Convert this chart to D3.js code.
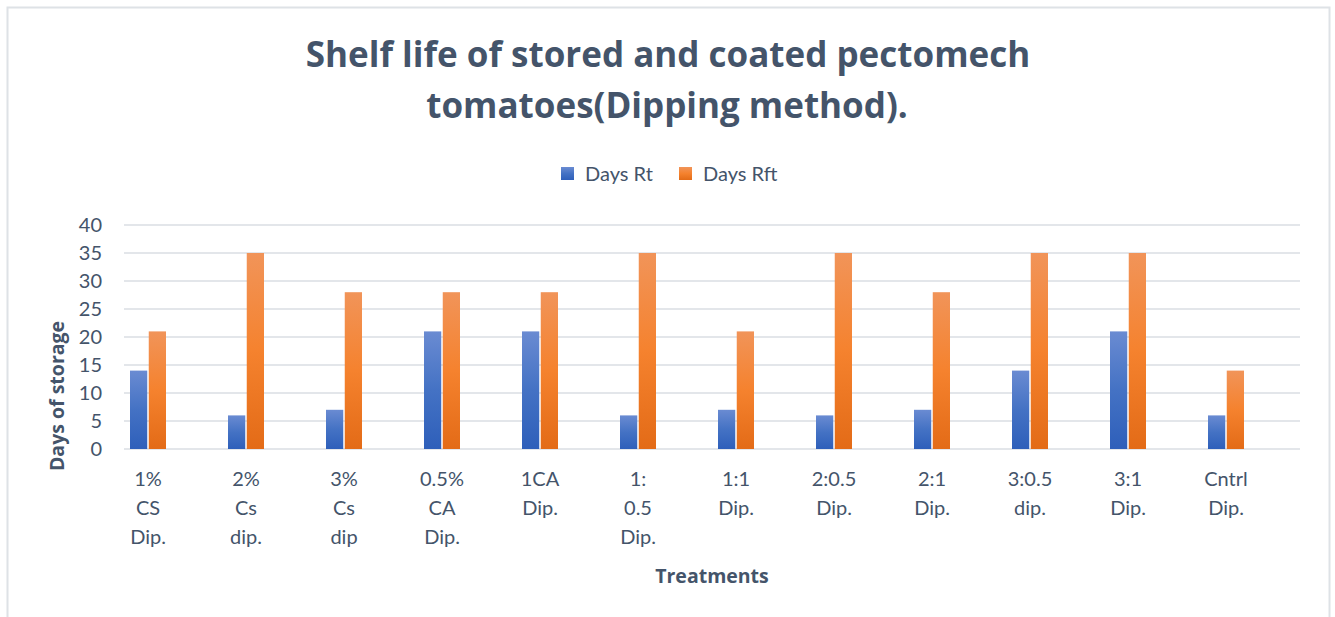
<!DOCTYPE html>
<html>
<head>
<meta charset="utf-8">
<script src="https://cdn.jsdelivr.net/npm/d3@7"></script>
<style>
  body { margin: 0; background: #fff; }
  svg text { font-family: Lato, "Open Sans", sans-serif; }
  svg text.heading { font-family: "Open Sans", Lato, sans-serif; font-weight: bold; }
</style>
</head>
<body>
<svg width="1335" height="617"></svg>
<script>
var categories = [
    ["1%", "CS", "Dip."],
    ["2%", "Cs", "dip."],
    ["3%", "Cs", "dip"],
    ["0.5%", "CA", "Dip."],
    ["1CA", "Dip."],
    ["1:", "0.5", "Dip."],
    ["1:1", "Dip."],
    ["2:0.5", "Dip."],
    ["2:1", "Dip."],
    ["3:0.5", "dip."],
    ["3:1", "Dip."],
    ["Cntrl", "Dip."]
];
var seriesNames = ["Days Rt", "Days Rft"];
var daysRt = [14, 6, 7, 21, 21, 6, 7, 6, 7, 14, 21, 6];
var daysRft = [21, 35, 28, 28, 28, 35, 21, 35, 28, 35, 35, 14];
var yTicks = [0, 5, 10, 15, 20, 25, 30, 35, 40];

var svg = d3.select("svg"),
    width = +svg.attr("width"),
    height = +svg.attr("height");

var textColor = "#44546A";

// chart frame
svg.append("rect")
    .attr("x", 7.5).attr("y", 7.5)
    .attr("width", 1322).attr("height", 620)
    .attr("fill", "#fff")
    .attr("stroke", "#DEE2E6")
    .attr("stroke-width", 2);

// gradients
var defs = svg.append("defs");
var grads = [
    { id: "gBlue", stops: ["#6A8BD2", "#4472C4", "#2E5FBA"] },
    { id: "gOrange", stops: ["#F19459", "#F5822E", "#E36B17"] }
];
grads.forEach(function (g) {
    var lg = defs.append("linearGradient")
        .attr("id", g.id)
        .attr("x1", 0).attr("y1", 0).attr("x2", 0).attr("y2", 1);
    lg.append("stop").attr("offset", "0%").attr("stop-color", g.stops[0]);
    lg.append("stop").attr("offset", "50%").attr("stop-color", g.stops[1]);
    lg.append("stop").attr("offset", "100%").attr("stop-color", g.stops[2]);
});
var fills = ["url(#gBlue)", "url(#gOrange)"];

// title
var title = svg.append("text")
    .attr("class", "heading")
    .attr("text-anchor", "middle")
    .attr("fill", textColor)
    .attr("font-size", 35);
title.append("tspan").attr("x", 668).attr("y", 67).text("Shelf life of stored and coated pectomech");
title.append("tspan").attr("x", 667).attr("y", 118).text("tomatoes(Dipping method).");

// scales
var x0 = d3.scaleBand()
    .domain(d3.range(categories.length))
    .range([99, 1275]);

var x1 = d3.scaleBand()
    .domain([0, 1])
    .range([-18, 18])
    .paddingInner(0.08);

var y = d3.scaleLinear()
    .domain([0, 40])
    .range([449, 225]);

// gridlines
svg.append("g")
    .selectAll("line")
    .data(yTicks)
    .enter().append("line")
    .attr("x1", 124).attr("x2", 1300)
    .attr("y1", d => y(d)).attr("y2", d => y(d))
    .attr("stroke", "#E3E6EA")
    .attr("stroke-width", 2);

// y tick labels
svg.append("g")
    .selectAll("text")
    .data(yTicks)
    .enter().append("text")
    .attr("x", 102)
    .attr("y", d => y(d))
    .attr("dy", "0.35em")
    .attr("text-anchor", "end")
    .attr("fill", textColor)
    .attr("font-size", 20)
    .text(d => d);

// bars
var data = categories.map(function (c, i) {
    return { i: i, values: [daysRt[i], daysRft[i]] };
});

var groups = svg.append("g")
    .selectAll("g")
    .data(data)
    .enter().append("g")
    .attr("transform", d => "translate(" + (x0(d.i) + x0.bandwidth() / 2) + ",0)");

groups.selectAll("rect")
    .data(d => d.values.map((v, k) => ({ k: k, v: v })))
    .enter().append("rect")
    .attr("x", d => x1(d.k))
    .attr("width", x1.bandwidth())
    .attr("y", d => y(d.v))
    .attr("height", d => y(0) - y(d.v))
    .attr("fill", d => fills[d.k]);

// category labels
var catLabels = svg.append("g")
    .selectAll("text")
    .data(categories)
    .enter().append("text")
    .attr("text-anchor", "middle")
    .attr("fill", textColor)
    .attr("font-size", 20);

catLabels.each(function (lines, i) {
    var cx = x0(i) + x0.bandwidth() / 2;
    d3.select(this).selectAll("tspan")
        .data(lines)
        .enter().append("tspan")
        .attr("x", cx)
        .attr("y", (d, k) => 486 + k * 29)
        .text(d => d);
});

// axis titles
svg.append("text")
    .attr("class", "heading")
    .attr("transform", "translate(64,396) rotate(-90)")
    .attr("text-anchor", "middle")
    .attr("fill", textColor)
    .attr("font-size", 19.5)
    .text("Days of storage");

svg.append("text")
    .attr("class", "heading")
    .attr("x", 712)
    .attr("y", 583)
    .attr("text-anchor", "middle")
    .attr("fill", textColor)
    .attr("font-size", 19.5)
    .text("Treatments");

// legend
var legendX = [561, 679];
var legend = svg.append("g")
    .selectAll("g")
    .data(seriesNames)
    .enter().append("g")
    .attr("transform", (d, i) => "translate(" + legendX[i] + ",167)");

legend.append("rect")
    .attr("width", 13).attr("height", 13)
    .attr("fill", (d, i) => fills[i]);

legend.append("text")
    .attr("x", 24)
    .attr("y", 7)
    .attr("dy", "0.35em")
    .attr("fill", textColor)
    .attr("font-size", 20)
    .text(d => d);
</script>
</body>
</html>
